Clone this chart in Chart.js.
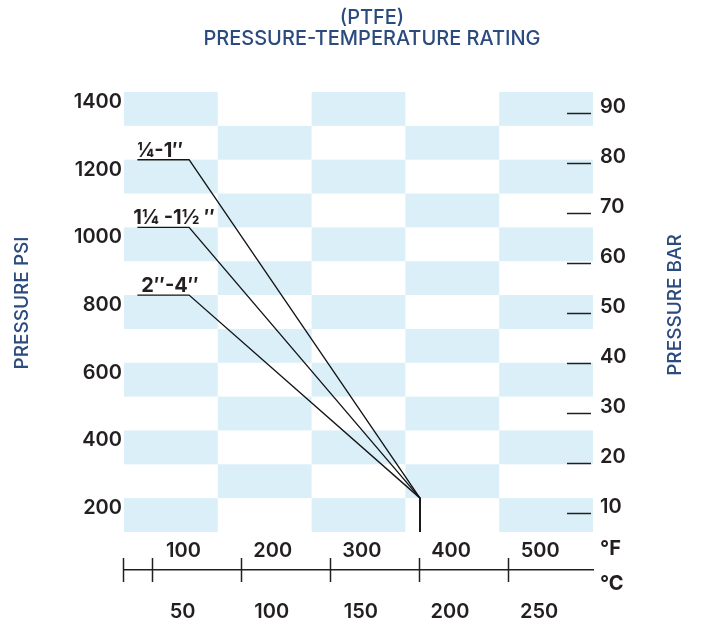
<!DOCTYPE html>
<html>
<head>
<meta charset="utf-8">
<title>PTFE Pressure-Temperature Rating</title>
<script src="https://cdn.jsdelivr.net/npm/chart.js@4.4.1/dist/chart.umd.min.js"></script>
<style>
  html, body { margin: 0; padding: 0; background: #fff; }
</style>
</head>
<body>
<canvas id="chart" width="710" height="630"></canvas>
<script>
// Data
const seriesLabels = ['¼-1″', '1¼ -1½ ″', '2″-4″'];
const tempF = [83, 141, 400, 400];
const psiQuarterToOne = [1200, 1200, 200, 100];
const psiOneQuarterToOneHalf = [1000, 1000, 200, 100];
const psiTwoToFour = [800, 800, 200, 100];

const psiTicks = [200, 400, 600, 800, 1000, 1200, 1400];
const barTicks = [10, 20, 30, 40, 50, 60, 70, 80, 90];
const fTicks = [100, 200, 300, 400, 500];
const cTicks = [50, 100, 150, 200, 250];

// checkerboard edges
const rowEdgesPsi = [100, 200, 300, 400, 500, 600, 700, 800, 900, 1000, 1100, 1200, 1300, 1400];
const colEdgesF = [68, 173.2, 278.4, 383.6, 488.8, 594];

// Styles
const NAVY = '#2b4a7e';
const INK = '#231f20';
const CELL = '#daeff8';
const LINE = '#151515';
const FONT = 'Inter, "Noto Sans", sans-serif';
const tickFont = { size: 20, weight: '600' };

Chart.defaults.font.family = FONT;
Chart.defaults.color = INK;

function points(psi) {
  return tempF.map((t, i) => ({ x: t, y: psi[i] }));
}

function lineSet(label, psi) {
  return {
    label: label,
    data: points(psi),
    borderColor: LINE,
    borderWidth: 1.4,
    pointRadius: 0,
    fill: false,
    tension: 0,
    xAxisID: 'x',
    yAxisID: 'y'
  };
}

// Light blue cells behind the lines
const checkerboard = {
  id: 'checkerboard',
  beforeDatasetsDraw(chart) {
    const { ctx, scales: { x, y } } = chart;
    const top = rowEdgesPsi.length - 1;
    ctx.save();
    ctx.fillStyle = CELL;
    for (let r = 0; r < top; r++) {
      const yTop = y.getPixelForValue(rowEdgesPsi[top - r]);
      const yBot = y.getPixelForValue(rowEdgesPsi[top - r - 1]);
      for (let c = 0; c < colEdgesF.length - 1; c++) {
        if ((r + c) % 2) continue;
        const x0 = x.getPixelForValue(colEdgesF[c]);
        const x1 = x.getPixelForValue(colEdgesF[c + 1]);
        ctx.fillRect(x0, yTop, x1 - x0, yBot - yTop);
      }
    }
    ctx.restore();
  }
};

// Series labels, bar dashes, temperature ticks, axis titles
const extras = {
  id: 'extras',
  afterDraw(chart) {
    const { ctx, chartArea, scales: { x, xC, yBar } } = chart;
    ctx.save();

    // series labels over the flat part of each line
    const labelDx = [0, -4, 4];
    ctx.font = '700 20px ' + FONT;
    ctx.fillStyle = INK;
    ctx.textAlign = 'left';
    ctx.textBaseline = 'alphabetic';
    chart.data.datasets.forEach((ds, i) => {
      const p = chart.getDatasetMeta(i).data[0];
      ctx.fillText(ds.label, p.x + labelDx[i], p.y - 3);
    });

    // bar dashes inside the plot
    ctx.strokeStyle = INK;
    ctx.lineWidth = 1.5;
    barTicks.forEach(v => {
      const yy = Math.round(yBar.getPixelForValue(v)) + 0.5;
      ctx.beginPath();
      ctx.moveTo(yBar.left - 26, yy);
      ctx.lineTo(yBar.left - 2, yy);
      ctx.stroke();
    });

    // temperature tick marks across the axis line
    const axisY = xC.top;
    [x.min].concat(fTicks).forEach(v => {
      const xx = Math.round(x.getPixelForValue(v)) - 0.5;
      ctx.beginPath();
      ctx.moveTo(xx, axisY - 12);
      ctx.lineTo(xx, axisY + 12);
      ctx.stroke();
    });

    // unit labels
    ctx.font = '700 20px ' + FONT;
    ctx.textBaseline = 'middle';
    ctx.fillText('°F', x.right + 7, x.top + 17);
    ctx.fillText('°C', xC.right + 7, xC.top + 14);

    // axis titles, both reading upward
    const midY = (chartArea.top + chartArea.bottom) / 2;
    ctx.font = '500 19px ' + FONT;
    ctx.fillStyle = NAVY;
    ctx.textAlign = 'center';
    ctx.translate(22, midY - 9);
    ctx.rotate(-Math.PI / 2);
    ctx.fillText('PRESSURE PSI', 0, 0);
    ctx.setTransform(1, 0, 0, 1, 0, 0);
    ctx.translate(675, midY - 7);
    ctx.rotate(-Math.PI / 2);
    ctx.fillText('PRESSURE BAR', 0, 0);
    ctx.restore();
  }
};

new Chart(document.getElementById('chart'), {
  type: 'line',
  data: {
    datasets: [
      lineSet(seriesLabels[0], psiQuarterToOne),
      lineSet(seriesLabels[1], psiOneQuarterToOneHalf),
      lineSet(seriesLabels[2], psiTwoToFour)
    ]
  },
  options: {
    responsive: false,
    animation: false,
    layout: { padding: { left: 34, right: 0, top: 0, bottom: 0 } },
    plugins: {
      legend: { display: false },
      tooltip: { enabled: false },
      title: {
        display: true,
        text: ['(PTFE)', 'PRESSURE-TEMPERATURE RATING'],
        color: NAVY,
        font: { size: 20, weight: '500', lineHeight: 1.05 },
        padding: { top: 7, bottom: 43 }
      }
    },
    scales: {
      x: {
        type: 'linear',
        position: 'bottom',
        min: 68,
        max: 594,
        afterBuildTicks: s => { s.ticks = fTicks.map(v => ({ value: v })); },
        afterFit: s => { s.height = 38; },
        grid: { display: false, drawTicks: false },
        border: { display: false },
        ticks: { padding: 7, labelOffset: 31, font: tickFont, color: INK, maxRotation: 0, callback: v => String(v) }
      },
      xC: {
        type: 'linear',
        position: 'bottom',
        min: 34,
        max: 297,
        afterBuildTicks: s => { s.ticks = cTicks.map(v => ({ value: v })); },
        afterFit: s => { s.height = 60; },
        grid: { display: false, drawTicks: false },
        border: { display: true, color: INK, width: 1.5 },
        ticks: { padding: 30, labelOffset: 30, font: tickFont, color: INK, maxRotation: 0, callback: v => String(v) }
      },
      y: {
        type: 'linear',
        position: 'left',
        min: 100,
        max: 1400,
        afterBuildTicks: s => { s.ticks = psiTicks.map(v => ({ value: v })); },
        afterFit: s => { s.width = 90; },
        grid: { display: false, drawTicks: false },
        border: { display: false },
        ticks: { padding: 2, labelOffset: 10, font: tickFont, color: INK, callback: v => String(v) }
      },
      yBar: {
        type: 'linear',
        position: 'right',
        min: 6.3,
        max: 94.2,
        afterBuildTicks: s => { s.ticks = barTicks.map(v => ({ value: v })); },
        afterFit: s => { s.width = 117; },
        grid: { display: false, drawTicks: false },
        border: { display: false },
        ticks: { padding: 7, labelOffset: -6, font: tickFont, color: INK, callback: v => String(v) }
      }
    }
  },
  plugins: [checkerboard, extras]
});
</script>
</body>
</html>
